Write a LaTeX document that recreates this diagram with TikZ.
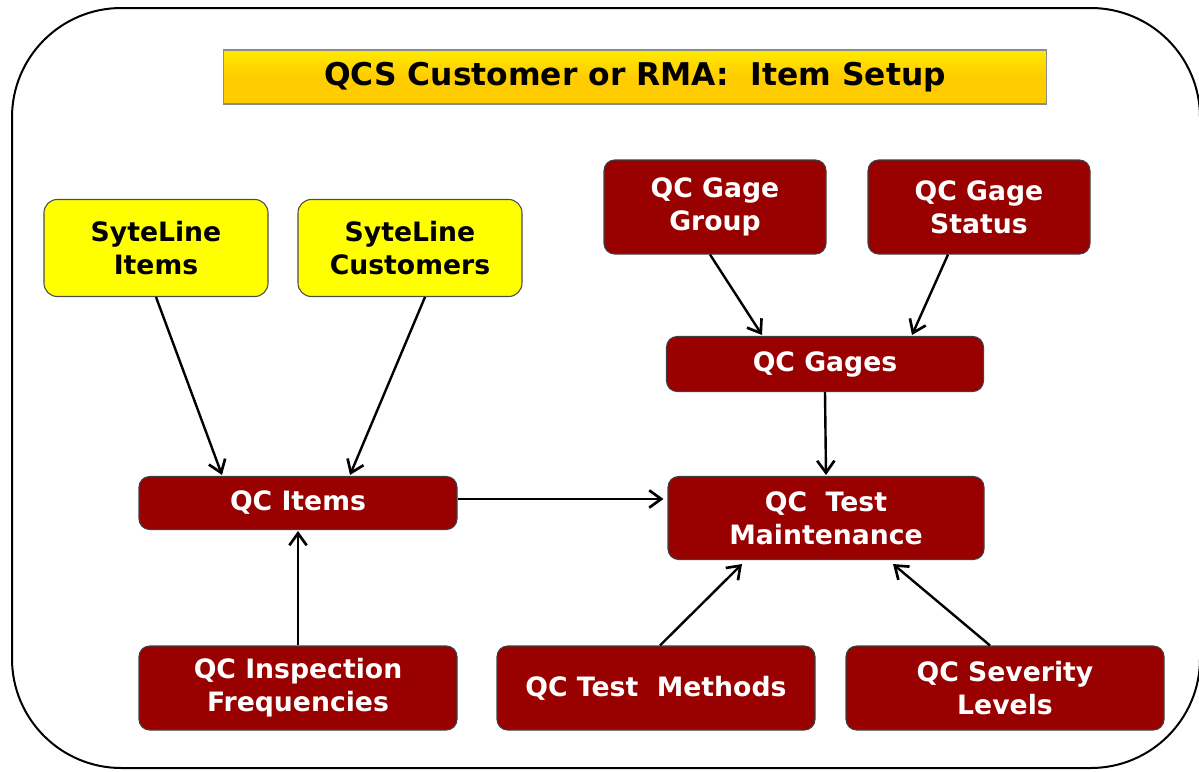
\documentclass[tikz,border=0pt]{standalone}
\usepackage{fontspec}
\setmainfont{DejaVu Sans}
\usetikzlibrary{arrows.meta,calc}
\begin{document}
\begin{tikzpicture}[x=0.75pt,y=-0.75pt,
    boxtext/.style={font=\bfseries\fontsize{20}{24.75}\selectfont, align=center, inner sep=0pt},
    redbox/.style={boxtext, draw=black!75, line width=0.8pt, fill=qcred, rounded corners=8pt, text=white},
    yellowbox/.style={boxtext, draw=black!70, line width=0.8pt, fill=qcyellow, rounded corners=10pt, text=black},
    link/.style={-{Straight Barb[length=9pt,width=13pt,line width=2pt]}, line width=1.8pt, black}]
    \definecolor{qcred}{RGB}{153,0,0}
    \definecolor{qcyellow}{RGB}{255,255,0}
    \definecolor{qcgold}{RGB}{255,204,0}

    \useasboundingbox (0,0) rectangle (1199,771);
    \draw[line width=1.5pt, rounded corners=82pt] (12,8) rectangle (1200,768);

    % title bar
    \node[draw=black!45, line width=0.8pt, top color=qcgold!40!yellow, bottom color=qcgold, middle color=qcgold,
          minimum width=617pt, minimum height=40.5pt, inner sep=0pt,
          font=\bfseries\fontsize{23.5}{27}\selectfont] (title) at (635,77) {QCS Customer or RMA:\ \ Item Setup};

    % source tables
    \node[yellowbox, minimum width=168pt, minimum height=72.75pt] (sitems) at (156,248) {SyteLine\\Items};
    \node[yellowbox, minimum width=168pt, minimum height=72.75pt] (scust) at (410,248) {SyteLine\\Customers};
    \node[redbox, minimum width=166.5pt, minimum height=70.5pt] (ggroup) at (715,207) {QC Gage\\Group};
    \node[redbox, minimum width=166.5pt, minimum height=70.5pt] (gstatus) at (979,207) {QC Gage\\Status};
    \node[redbox, minimum width=237.75pt, minimum height=41.25pt] (gages) at (825,364) {QC Gages};
    \node[redbox, minimum width=238.5pt, minimum height=39.75pt] (qcitems) at (298,503) {QC Items};
    \node[redbox, minimum width=237pt, minimum height=62.25pt] (qctest) at (826,518) {QC\ \ Test\\Maintenance};
    \node[redbox, minimum width=238.5pt, minimum height=63pt] (freq) at (298,688) {QC Inspection\\Frequencies};
    \node[redbox, minimum width=238.5pt, minimum height=63pt] (methods) at (656,688) {QC Test\ \ Methods};
    \node[redbox, minimum width=238.5pt, minimum height=63pt] (severity) at (1005,688) {QC Severity\\Levels};

    % links
    \draw[link] (sitems.south) -- ($(qcitems.north)+(-76,-1)$);
    \draw[link] ($(scust.south)+(15,0)$) -- ($(qcitems.north)+(52,-1)$);
    \draw[link] ($(ggroup.south)+(-5,0)$) -- ($(gages.north)+(-63,-1)$);
    \draw[link] ($(gstatus.south)+(-31,0)$) -- ($(gages.north)+(87,-1)$);
    \draw[link] (gages.south) -- ($(qctest.north)+(0,-1)$);
    \draw[link] ($(qcitems.east)+(0,-4)$) -- ($(qctest.west)+(-4,-19)$);
    \draw[link] (freq.north) -- ($(qcitems.south)+(0,1)$);
    \draw[link] ($(methods.north)+(4,0)$) -- ($(qctest.south)+(-84,4)$);
    \draw[link] ($(severity.north)+(-15,0)$) -- ($(qctest.south)+(67,4)$);
\end{tikzpicture}
\end{document}
